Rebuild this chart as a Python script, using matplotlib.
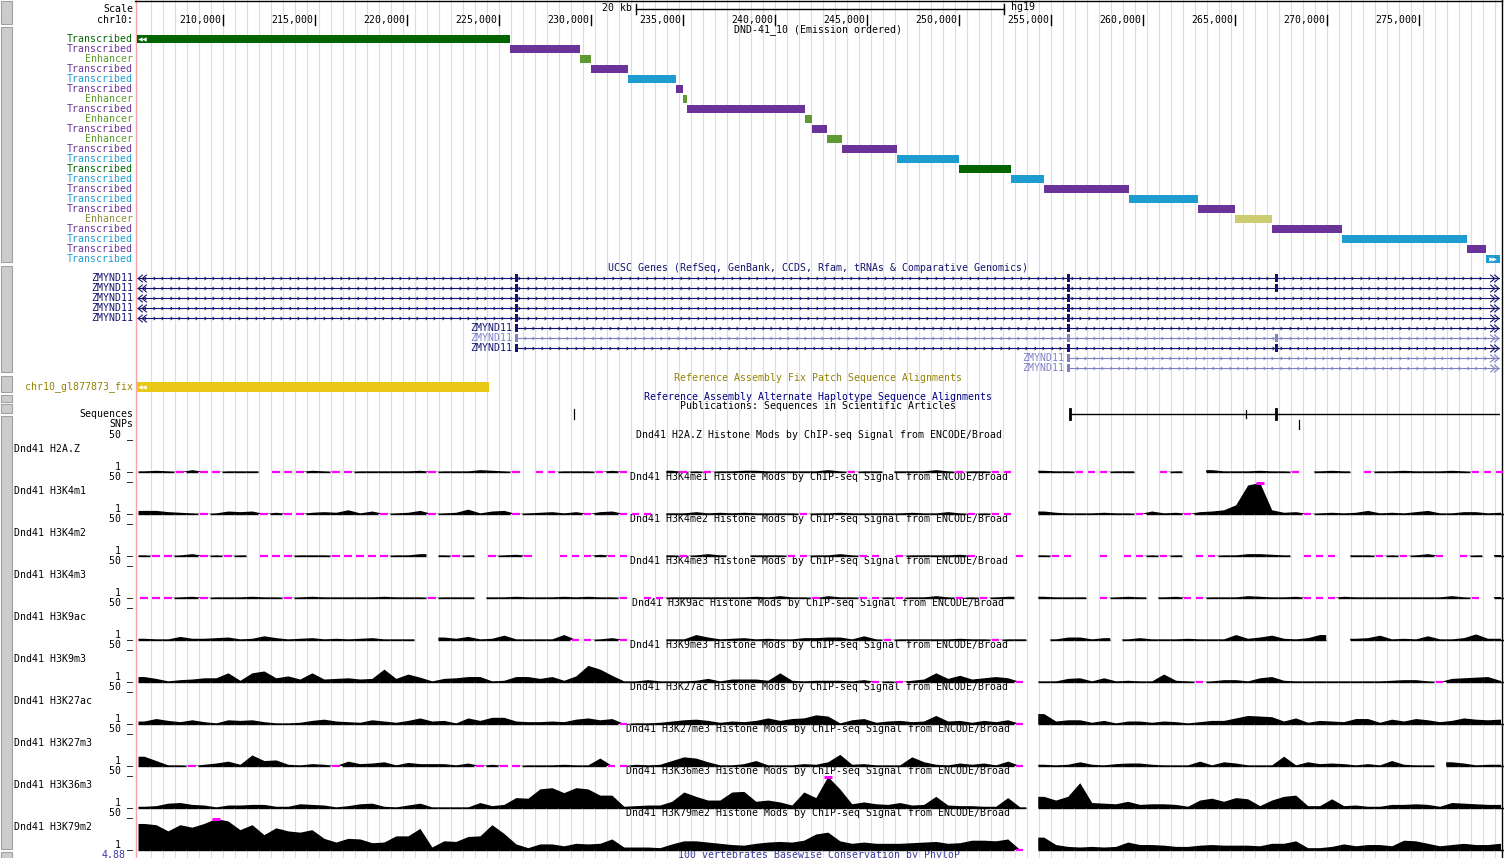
import numpy as np
import matplotlib
matplotlib.use("Agg")
import matplotlib.pyplot as plt
from matplotlib.path import Path
from matplotlib.patches import Rectangle
from matplotlib.transforms import offset_copy

W, H = 1504, 858
FONT = "DejaVu Sans Mono"
FS = 7.1

# chr10 window (hg19)
VIEW_START, VIEW_END = 205310, 279387
TICKS = list(range(210000, 275001, 5000))
SCALE_BAR = (232430, 252430)

# ChromHMM segments (DND-41, emission ordered)
SEG_START = [205000, 225600, 229400, 230000, 232000, 234600, 235000, 235200, 241600, 242000,
             242800, 243600, 246600, 250000, 252800, 254600, 259200, 263000, 265000, 267000,
             270800, 277600, 278600]
SEG_END = [225600, 229400, 230000, 232000, 234600, 235000, 235200, 241600, 242000, 242800,
           243600, 246600, 250000, 252800, 254600, 259200, 263000, 265000, 267000, 270800,
           277600, 278600, 280000]
SEG_STATE = ["tx_dg", "tx_pu", "enh_g", "tx_pu", "tx_cy", "tx_pu", "enh_g", "tx_pu", "enh_g", "tx_pu",
             "enh_g", "tx_pu", "tx_cy", "tx_dg", "tx_cy", "tx_pu", "tx_cy", "tx_pu", "enh_y", "tx_pu",
             "tx_cy", "tx_pu", "tx_cy"]
STATE_NAME = {"tx_dg": "Transcribed", "tx_pu": "Transcribed", "tx_cy": "Transcribed",
              "enh_g": "Enhancer", "enh_y": "Enhancer"}
STATE_COLOR = {"tx_dg": "#006400", "tx_pu": "#6a3399", "tx_cy": "#1c9ccf",
               "enh_g": "#5f9a30", "enh_y": "#cccc70"}
STATE_TEXT = {"tx_dg": "#006400", "tx_pu": "#6a3399", "tx_cy": "#1c9ccf",
              "enh_g": "#5f9a30", "enh_y": "#8c8c3c"}

# ZMYND11 transcripts: start, exon centres, non-coding (light)
GENE_START = [205000, 205000, 205000, 205000, 205000, 225960, 225960, 225960, 255960, 255960]
GENE_EXONS = [[225960, 255960, 267220], [225960, 255960, 267220], [225960, 255960],
              [225960, 255960], [225960, 255960], [225960, 255960],
              [225960, 255960, 267220], [225960, 255960, 267220], [255960], [255960]]
GENE_LIGHT = [False, False, False, False, False, False, True, False, True, True]
GENE_END = 290000
EXON_LEN = 160

FIX_PATCH = (205000, 224440)
SEQ_SINGLE = 229060
SEQ_LINE = (256020, 290000)
SEQ_MARKS = [256020, 265580, 267220]
SNP_POS = 268460

# ChIP-seq signal, one value per 652 bp bin (None = no data, 0 = below 1)
BIN_START, BIN_SIZE = 205365, 652
N = None
H2AZ = [1,2,1,0,3,0,0,1,1,1, N,0,0,0,2,1,0,0,1,1, 1,1,1,2,0,1,1,1,3,2, 1,0,N,0,0,1,1,
        1,0,2,0,N,N,N,2,0,1, 0,1,1,2,2,1,1,1,1,1, 3,1,0,1,1,N,1,1,1,3, 1,0,1,1,0,0,N,
        N,2,1,1,0,0,0,1,1,N, N,0,1,N,N,3,1,1,1,2, 1,1,0,N,1,2,1,N,0,1, 1,2,1,1,1,2,1,0,0,0]
H3K4M1 = [5,5,3,2,1,0,1,4,3,4, 0,2,0,0,2,3,2,6,1,4, 0,1,2,5,0,1,2,7,1,4, 5,0,1,2,3,1,3,
          0,3,4,0,0,0,N,1,1,3, 1,2,1,2,1,1,1,1,0,1, 1,2,1,1,1,1,1,2,1,1, 3,1,0,1,0,0,N,
          N,4,2,1,1,1,2,1,1,0, 4,1,2,0,3,4,6,14,46,52, 6,2,3,0,1,2,1,2,5,1, 2,1,3,5,1,1,3,3,1,2]
H3K4M2 = [1,0,0,1,3,0,1,0,1,N, 0,0,0,1,1,1,0,0,0,0, 0,1,1,3,N,1,0,1,N,0, 1,2,0,N,N,0,0,
          0,2,0,0,N,N,N,1,0,1, 3,1,N,N,1,1,1,0,0,1, 1,3,1,0,0,N,0,1,1,1, 1,2,0,N,N,N,0,
          N,1,0,0,N,N,0,N,0,0, 1,0,1,N,0,0,1,1,3,3, 2,1,N,0,0,0,N,1,1,0, 1,0,1,3,0,N,0,1,N,1]
H3K4M3 = [0,0,0,1,2,0,1,1,1,2, 1,1,0,1,2,1,1,1,1,1, 2,1,1,1,0,1,1,1,N,1, 1,2,1,1,1,2,1,
          2,1,1,0,N,0,0,1,1,1, 1,1,1,1,2,1,3,1,1,0, 3,1,1,0,0,1,0,1,1,3, 1,0,1,0,1,2,N,
          N,2,1,1,1,N,0,1,2,1, N,1,2,0,0,1,1,1,3,2, 1,1,2,0,0,0,2,1,1,1, 1,1,1,1,1,3,1,0,N,1]
H3K9AC = [2,1,1,5,2,2,3,4,1,2, 6,3,1,2,3,1,2,1,2,3, 1,1,1,N,N,4,2,5,1,2, 7,1,1,1,1,8,0,
          0,1,3,0,N,N,N,1,1,8, 4,1,2,3,1,2,1,1,3,3, 4,4,1,6,1,0,1,1,1,1, 1,2,1,1,0,1,1,
          N,N,1,4,4,1,3,N,1,3, 1,1,1,2,1,1,1,8,2,4, 7,2,1,3,8,N,N,2,3,7, 1,2,1,6,1,1,3,9,2,2]
H3K9M3 = [8,5,1,3,4,6,6,14,2,14, 17,6,9,4,14,4,5,6,4,5, 20,5,12,7,1,5,6,8,8,1, 2,8,8,5,8,2,9,
          26,20,10,1,1,3,1,1,1,2, 5,1,4,4,4,2,14,2,1,2, 2,2,1,3,0,1,0,2,4,14, 5,10,4,6,8,6,0,
          N,1,1,5,6,1,6,1,2,1, 1,12,2,1,0,1,3,3,1,6, 8,2,1,1,1,1,1,1,1,1, 2,3,3,1,0,5,6,7,8,2]
H3K27AC = [4,8,5,3,6,3,1,6,5,6, 3,1,1,2,5,7,4,3,2,6, 4,2,5,9,4,5,1,9,5,10, 10,4,3,3,4,3,7,
           9,6,8,0,1,1,2,4,6,7, 5,2,4,3,5,9,5,8,9,14, 12,1,6,8,2,4,5,3,4,13, 4,5,2,5,3,6,0,
           N,16,4,6,6,2,5,1,4,4, 2,4,3,1,3,5,5,9,13,12, 11,4,9,2,5,4,3,8,8,2, 7,4,8,6,3,5,9,7,6,7]
H3K27M3 = [15,8,1,1,0,2,4,7,2,17, 8,9,2,1,3,2,0,7,3,4, 6,1,5,3,3,3,1,4,0,2, 0,0,1,1,1,2,1,
           1,12,0,0,2,1,2,8,14,12, 6,1,1,3,8,1,1,1,3,2, 6,18,2,3,1,1,1,14,6,2, 1,4,2,4,1,7,0,
           N,2,1,2,6,2,1,3,4,4, 2,1,1,1,7,1,6,4,1,1, 1,15,1,6,3,4,3,1,3,1, 8,2,1,1,N,6,4,1,2,2]
H3K36M3 = [2,3,7,8,5,4,1,4,4,5, 5,2,2,6,5,4,1,3,6,7, 2,1,4,7,1,1,1,1,8,3, 5,16,15,30,32,24,32,
           30,20,20,2,3,4,4,10,25,18, 12,12,25,26,10,12,9,4,25,16, 52,30,6,9,6,5,8,4,5,18, 4,3,3,2,2,16,1,
           N,18,12,18,40,8,7,6,10,5, 6,6,5,2,12,15,10,16,14,3, 12,18,20,3,3,14,3,4,2,2, 5,5,6,5,2,8,7,6,5,5]
H3K79M2 = [42,40,30,40,36,42,52,46,32,40, 24,35,30,28,32,18,12,18,17,11, 12,22,22,34,4,14,13,21,22,40, 26,9,3,9,9,6,10,
           9,10,17,4,4,4,3,9,14,14, 12,10,8,7,10,12,13,12,15,25, 28,14,10,12,10,10,10,11,12,13, 10,11,15,15,14,17,0,
           N,20,8,5,4,5,4,5,12,8, 8,7,5,5,7,8,7,7,7,6, 10,10,14,3,3,5,9,6,8,8, 6,15,14,10,6,8,10,8,8,10]

MARKS = ["H2A.Z", "H3K4m1", "H3K4m2", "H3K4m3", "H3K9ac", "H3K9m3", "H3K27ac", "H3K27m3", "H3K36m3", "H3K79m2"]
MARK_TITLES = ["H2A.Z", "H3K4me1", "H3K4me2", "H3K4me3", "H3K9ac", "H3K9me3", "H3K27ac", "H3K27me3",
               "H3K36me3", "H3K79me2"]
SIGNALS = [H2AZ, H3K4M1, H3K4M2, H3K4M3, H3K9AC, H3K9M3, H3K27AC, H3K27M3, H3K36M3, H3K79M2]

NAVY = "#14146e"
LIGHT = "#8080c6"
OLIVE = "#968200"
MAGENTA = "#ff00ff"
X0, X1 = 137, 1500   # data area, pixels
BP_PX = 54.35        # bp per pixel at this zoom

fig = plt.figure(figsize=(W / 100, H / 100), dpi=100)
fig.patch.set_facecolor("white")


def px_axes(x0, y0, x1, y1):
    ax = fig.add_axes([x0 / W, 1 - y1 / H, (x1 - x0) / W, (y1 - y0) / H])
    ax.axis("off")
    return ax


def txt(ax, x, y, s, ha="right", color="black", **kw):
    ax.text(x, y, s, ha=ha, va="center", color=color, fontsize=FS, family=FONT, **kw)


# ---- background: guidelines, side buttons, left labels
bg = px_axes(0, 0, W, H)
bg.set_xlim(0, W)
bg.set_ylim(H, 0)
for gx in range(150, 1500, 12):
    bg.plot([gx + 0.5, gx + 0.5], [0, H], color="#dadaf4", lw=0.8, zorder=0)
bg.plot([135.5, 135.5], [0, H], color="#f4a6a6", lw=1.0)
bg.plot([135, 1501.5], [0.5, 0.5], color="black", lw=1.0)
bg.plot([1501.5, 1501.5], [0, H], color="black", lw=1.0)
for y0, y1 in [(1, 24), (27, 262), (266, 372), (376, 392), (395, 402), (404, 413), (416, 849), (852, 860)]:
    bg.add_patch(Rectangle((1, y0), 11, y1 - y0, facecolor="#cccccc", edgecolor="#a0a0a0", lw=0.8))

txt(bg, 133, 9, "Scale")
txt(bg, 133, 20, "chr10:")
mid = (X0 + X1) / 2
txt(bg, mid, 30, "DND-41_10 (Emission ordered)", ha="center")
txt(bg, mid, 268, "UCSC Genes (RefSeq, GenBank, CCDS, Rfam, tRNAs & Comparative Genomics)", ha="center", color=NAVY)
txt(bg, mid, 378, "Reference Assembly Fix Patch Sequence Alignments", ha="center", color=OLIVE)
txt(bg, mid, 397, "Reference Assembly Alternate Haplotype Sequence Alignments", ha="center", color="#000080")
txt(bg, mid, 406, "Publications: Sequences in Scientific Articles", ha="center")
txt(bg, 133, 387, "chr10_gl877873_fix", color=OLIVE)
txt(bg, 133, 414, "Sequences")
txt(bg, 133, 424, "SNPs")
for i, st in enumerate(SEG_STATE):
    txt(bg, 133, 39 + 10 * i, STATE_NAME[st], color=STATE_TEXT[st])
for i in range(5):
    txt(bg, 133, 278 + 10 * i, "ZMYND11", color=NAVY)
for t, (mark, title) in enumerate(zip(MARKS, MARK_TITLES)):
    y = 435 + 42 * t
    txt(bg, 133, y, "50 _")
    txt(bg, 133, y + 32, "1 _")
    txt(bg, 14, y + 14, f"Dnd41 {mark}", ha="left")
    txt(bg, mid, y, f"Dnd41 {title} Histone Mods by ChIP-seq Signal from ENCODE/Broad", ha="center")
txt(bg, 126, 855, "4.88", color="#3a3aa0")
txt(bg, mid, 855, "100 vertebrates Basewise Conservation by PhyloP", ha="center", color="#3a3aa0")

# ---- header: ruler and scale bar
hd = px_axes(X0, 0, X1, 34)
hd.set_xlim(VIEW_START, VIEW_END)
hd.set_ylim(34, 0)
for tk in TICKS:
    hd.plot([tk, tk], [15, 25], color="black", lw=1.0)
    hd.text(tk, 20, f"{tk:,}", ha="right", va="center", fontsize=FS, family=FONT,
            transform=offset_copy(hd.transData, fig=fig, x=-1.5, units="points"))
a, b = SCALE_BAR
hd.plot([a, b], [9, 9], color="black", lw=1.0)
hd.plot([a, a], [4, 14], color="black", lw=1.0)
hd.plot([b, b], [4, 14], color="black", lw=1.0)
hd.text(a, 8, "20 kb", ha="right", va="center", fontsize=FS, family=FONT,
        transform=offset_copy(hd.transData, fig=fig, x=-3, units="points"))
hd.text(b, 7, "hg19", ha="left", va="center", fontsize=FS, family=FONT,
        transform=offset_copy(hd.transData, fig=fig, x=5, units="points"))

# ---- ChromHMM segments
hmm = px_axes(X0, 34, X1, 264)
hmm.set_xlim(VIEW_START, VIEW_END)
hmm.set_ylim(22.5, -0.5)
for i, (s, e, st) in enumerate(zip(SEG_START, SEG_END, SEG_STATE)):
    hmm.barh(i, e - s, left=s, height=0.8, color=STATE_COLOR[st], lw=0)
step = 3.5 * BP_PX
hmm.plot([VIEW_START + 3 * BP_PX, VIEW_START + 3 * BP_PX + step], [0, 0], ls="none",
         marker="<", ms=3.2, color="white", mew=0)
hmm.plot([VIEW_END - 9 * BP_PX, VIEW_END - 9 * BP_PX + step], [22, 22], ls="none",
         marker=">", ms=3.2, color="white", mew=0)

# ---- gene track
chev_r = Path([(-0.6, 1), (0.6, 0), (-0.6, -1)], [Path.MOVETO, Path.LINETO, Path.LINETO])
chev_l = Path([(0.6, 1), (-0.6, 0), (0.6, -1)], [Path.MOVETO, Path.LINETO, Path.LINETO])
gn = px_axes(X0, 273, X1, 373)
gn.set_xlim(VIEW_START, VIEW_END)
gn.set_ylim(9.5, -0.5)
for i, (st, exons, light) in enumerate(zip(GENE_START, GENE_EXONS, GENE_LIGHT)):
    col = LIGHT if light else NAVY
    s = max(st, VIEW_START)
    gn.plot([s, GENE_END], [i, i], color=col, lw=0.8, solid_capstyle="butt")
    cx = np.arange(s + 8 * BP_PX, VIEW_END - 12 * BP_PX, 8.5 * BP_PX)
    gn.plot(cx, np.full(len(cx), i), ls="none", marker=chev_r, ms=2.3, mfc="none", mec=col, mew=0.6)
    for ex in exons:
        gn.barh(i, EXON_LEN, left=ex - EXON_LEN / 2, height=0.85, color=col, lw=0)
    gn.plot([VIEW_END - 8 * BP_PX, VIEW_END - 4 * BP_PX], [i, i], ls="none", marker=chev_r,
            ms=5.5, mfc="none", mec=col, mew=0.8)
    if st < VIEW_START:
        gn.plot([VIEW_START + 3 * BP_PX, VIEW_START + 7 * BP_PX], [i, i], ls="none", marker=chev_l,
                ms=5.5, mfc="none", mec=col, mew=0.8)
    else:
        gn.text(st - EXON_LEN, i, "ZMYND11", ha="right", va="center", color=col, fontsize=FS,
                family=FONT, transform=offset_copy(gn.transData, fig=fig, x=-1.5, units="points"))

# ---- fix patch
fx = px_axes(X0, 382, X1, 392)
fx.set_xlim(VIEW_START, VIEW_END)
fx.set_ylim(-0.5, 0.5)
fx.barh(0, FIX_PATCH[1] - FIX_PATCH[0], left=FIX_PATCH[0], height=1.0, color="#e8c814", lw=0)
fx.plot([VIEW_START + 3 * BP_PX, VIEW_START + 3 * BP_PX + step], [0, 0], ls="none",
        marker="<", ms=3.2, color="white", mew=0)

# ---- sequences / SNPs
sq = px_axes(X0, 404, X1, 430)
sq.set_xlim(VIEW_START, VIEW_END)
sq.set_ylim(26, 0)
sq.plot([SEQ_SINGLE, SEQ_SINGLE], [5, 15], color="black", lw=0.9)
sq.plot(SEQ_LINE, [10, 10], color="black", lw=1.0)
for k, m in enumerate(SEQ_MARKS):
    thin = k == 1
    sq.plot([m, m], [6, 14] if thin else [5, 15], color="black", lw=0.9 if thin else 2.0)
sq.plot([SNP_POS, SNP_POS], [16, 25], color="black", lw=0.9)

# ---- signal tracks
for t, vals in enumerate(SIGNALS):
    base = 471.5 + 42 * t
    ax = px_axes(X0, base - 31, X1, base)
    ax.set_xlim(VIEW_START, VIEW_END)
    ax.set_ylim(0, 50)
    n = len(vals)
    left = BIN_START + BIN_SIZE * np.arange(n)
    cen = left + BIN_SIZE / 2
    i = 0
    while i < n:
        if vals[i] is None:
            i += 1
            continue
        j = i
        while j < n and vals[j] is not None:
            j += 1
        v = np.minimum(np.array(vals[i:j], dtype=float), 50)
        xs = np.concatenate([[left[i]], cen[i:j], [left[j - 1] + BIN_SIZE]])
        ys = np.concatenate([[v[0]], v, [v[-1]]])
        ax.fill_between(xs, 0, ys, color="black", lw=0)
        i = j
    for k, v in enumerate(vals):
        if v is None:
            continue
        if v == 0:
            ax.plot([cen[k] - BIN_SIZE * 0.3, cen[k] + BIN_SIZE * 0.3], [0, 0], color=MAGENTA,
                    lw=1.6, clip_on=False, solid_capstyle="butt")
        else:
            ax.plot([left[k], left[k] + BIN_SIZE], [0, 0], color="black", lw=1.0, clip_on=False,
                    solid_capstyle="butt")
        if v > 50:
            ax.plot([cen[k] - BIN_SIZE * 0.35, cen[k] + BIN_SIZE * 0.35], [50, 50], color=MAGENTA,
                    lw=2.2, clip_on=False, solid_capstyle="butt")

fig.savefig("out.png", dpi=100)
